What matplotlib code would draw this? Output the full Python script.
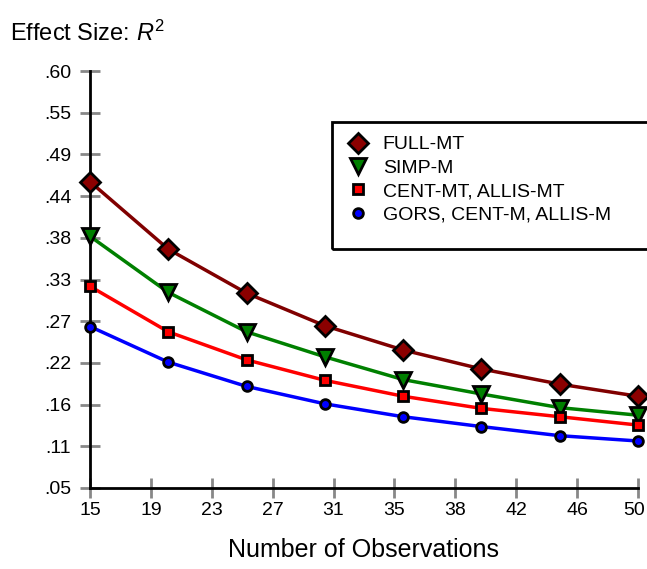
import matplotlib
matplotlib.use("Agg")
import matplotlib.pyplot as plt
from matplotlib.patches import Rectangle
import matplotlib.transforms as mtransforms
import numpy as np

plt.rcParams['font.family'] = ['Liberation Sans', 'DejaVu Sans']
plt.rcParams['mathtext.fontset'] = 'custom'
plt.rcParams['mathtext.rm'] = 'Liberation Sans'
plt.rcParams['mathtext.it'] = 'Liberation Sans:italic'

# data
n_obs = [15, 20, 25, 30, 35, 40, 45, 50]
full_mt = [0.454, 0.365, 0.307, 0.264, 0.232, 0.207, 0.187, 0.171]
simp_m = [0.382, 0.308, 0.256, 0.223, 0.193, 0.174, 0.156, 0.146]
cent_mt = [0.316, 0.256, 0.219, 0.192, 0.171, 0.155, 0.144, 0.133]
gors_m = [0.263, 0.216, 0.184, 0.161, 0.144, 0.131, 0.119, 0.112]

labels = ["FULL-MT", "SIMP-M", "CENT-MT, ALLIS-MT", "GORS, CENT-M, ALLIS-M"]

x_ticks = np.linspace(15, 50, 10)
y_ticks = np.linspace(0.05, 0.60, 11)
x_ticklabels = ["15", "19", "23", "27", "31", "35", "38", "42", "46", "50"]
y_ticklabels = [".05", ".11", ".16", ".22", ".27", ".33", ".38", ".44", ".49", ".55", ".60"]

fig = plt.figure(figsize=(6.47, 5.69), dpi=100)
ax = fig.add_axes([90/647, 81/569, 548/647, 417/569])

# series styles
styles = [
    (full_mt, '#800000', 'D', '#8B0000', 10),
    (simp_m, '#008000', 'v', '#008000', 11),
    (cent_mt, '#FF0000', 's', '#FF0000', 7),
    (gors_m, '#0000FF', 'o', '#0000FF', 7),
]
for (vals, lc, mk, fc, ms), lab in zip(styles, labels):
    ax.plot(n_obs, vals, color=lc, lw=2.5, marker=mk, markersize=ms,
            markerfacecolor=fc, markeredgecolor='black', markeredgewidth=2,
            label=lab, clip_on=False, zorder=3)

ax.set_xlim(15, 50)
ax.set_ylim(0.05, 0.60)
ax.set_xticks(x_ticks)
ax.set_xticklabels(x_ticklabels)
ax.set_yticks(y_ticks)
ax.set_yticklabels(y_ticklabels)
ax.tick_params(direction='inout', length=15, width=2, color='#888888',
               labelsize=14)
ax.tick_params(axis='y', pad=6)
ax.tick_params(axis='x', pad=2.5)

# nudge the last x label so it stays inside the picture
last = ax.get_xticklabels()[-1]
last.set_transform(last.get_transform() +
                   mtransforms.ScaledTranslation(-4/100, 0, fig.dpi_scale_trans))

for s in ['top', 'right']:
    ax.spines[s].set_visible(False)
for s in ['left', 'bottom']:
    ax.spines[s].set_linewidth(2)
    ax.spines[s].set_zorder(2)

ax.set_xlabel("Number of Observations", fontsize=18, labelpad=14)
fig.text(10/647, 1 - 33/569, "Effect Size: $R^2$", fontsize=17, va='center', ha='left')

# legend with a box running off the right edge
fig.patches.append(Rectangle((332/647, 1 - 249/569), 330/647, 127/569,
                             transform=fig.transFigure, fill=False,
                             edgecolor='black', lw=2))
fig.legend(loc='upper left', bbox_to_anchor=(340/647, 1 - 128/569),
           frameon=False, fontsize=14, handlelength=1.0, handletextpad=0.8,
           labelspacing=0.3, borderaxespad=0)
for line in fig.legends[0].get_lines():
    line.set_linestyle('none')

fig.savefig("out.png", dpi=100)
